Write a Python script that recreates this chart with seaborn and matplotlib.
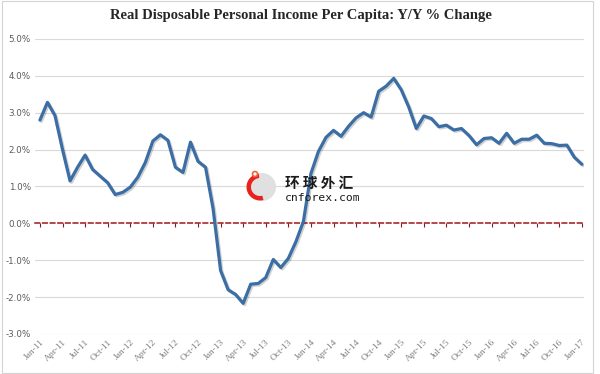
import pandas as pd
import matplotlib.pyplot as plt
import matplotlib.patheffects as pe
from matplotlib.patches import Rectangle, Circle, Wedge
import seaborn as sns

# monthly Y/Y % change, Jan-11 .. Jan-17
months = pd.date_range('2011-01-01', periods=73, freq='MS')
yoy = [2.80, 3.28, 2.92, 2.00, 1.15, 1.52, 1.85, 1.46, 1.28, 1.10, 0.78, 0.84,
       0.98, 1.25, 1.65, 2.23, 2.40, 2.25, 1.52, 1.38, 2.20, 1.68, 1.52, 0.40,
       -1.28, -1.80, -1.93, -2.17, -1.65, -1.63, -1.47, -0.98, -1.20, -0.95, -0.50, 0.05,
       1.35, 1.95, 2.33, 2.52, 2.36, 2.63, 2.86, 3.00, 2.88, 3.58, 3.72, 3.93,
       3.62, 3.15, 2.57, 2.91, 2.84, 2.62, 2.66, 2.53, 2.57, 2.38, 2.13, 2.30,
       2.32, 2.17, 2.44, 2.17, 2.28, 2.28, 2.39, 2.17, 2.16, 2.11, 2.12, 1.79,
       1.60]
y_ticks = [-3, -2, -1, 0, 1, 2, 3, 4, 5]

df = pd.DataFrame({'idx': range(len(months)), 'yoy': yoy})
tick_pos = list(range(0, len(months), 3))
tick_labels = [months[i].strftime('%b-%y') for i in tick_pos]

sns.set_style('white')
fig = plt.figure(figsize=(6, 3.74), dpi=100)
ax = fig.add_axes([0.0583, 0.107, 0.9147, 0.789])

for v in y_ticks:
    if v != 0:
        ax.axhline(v, color='#d9d9d9', lw=0.8, zorder=0)

sns.lineplot(data=df, x='idx', y='yoy', ax=ax, color='#3b6ea5', lw=2.3,
             path_effects=[pe.SimpleLineShadow(offset=(1.0, -1.0), alpha=0.18),
                           pe.Normal()], zorder=3)

ax.set_ylim(-3, 5)
ax.set_xlim(-0.66, 72.25)
ax.set_yticks(y_ticks)
ax.set_yticklabels([f'{v:.1f}%' for v in y_ticks], fontsize=6.3, color='#595959')
ax.set_xticks(tick_pos)
ax.set_xticklabels(tick_labels, rotation=45, ha='right', rotation_mode='anchor',
                   fontsize=6.8, color='#7f7f7f', family='Liberation Serif')
ax.tick_params(axis='both', length=0, pad=3)
ax.set_xlabel('')
ax.set_ylabel('')
for s in ax.spines.values():
    s.set_visible(False)

# dashed zero axis with small ticks
zax = ax.secondary_xaxis(3 / 8)
zax.set_xticks(tick_pos)
zax.set_xticklabels([])
zax.tick_params(axis='x', length=3, width=0.8, color='#8b1a1a', direction='out')
zax.spines['bottom'].set_color('#a01818')
zax.spines['bottom'].set_linestyle((0, (3, 2)))
zax.spines['bottom'].set_linewidth(1.1)
zax.spines['bottom'].set_zorder(2)

fig.suptitle('Real Disposable Personal Income Per Capita: Y/Y % Change',
             x=0.502, y=0.975, fontsize=10.5, fontweight='bold',
             family='Liberation Serif', color='#262626')

# watermark (positions in inches from lower left)
inch = fig.dpi_scale_trans
fig.patches.append(Circle((2.62, 3.74 - 1.87), 0.14, transform=inch,
                          facecolor='#e0e0e0', edgecolor='none', zorder=5))
fig.patches.append(Wedge((2.60, 3.74 - 1.87), 0.135, 95, 285, width=0.045,
                         transform=inch, facecolor='#e8231f', edgecolor='none', zorder=6))
fig.patches.append(Circle((2.55, 3.74 - 1.74), 0.025, transform=inch,
                          facecolor='white', edgecolor='#f0643c', lw=1.2, zorder=6))
fig.text(285 / 600, 1 - 183 / 374, '环 球 外 汇', family=['Noto Sans CJK SC', 'DejaVu Sans'],
         fontsize=10.5, fontweight='bold', color='#1a1a1a', va='center', ha='left', zorder=7)
fig.text(285 / 600, 1 - 198 / 374, 'cnforex.com', family='DejaVu Sans Mono',
         fontsize=8.2, color='#1a1a1a', va='center', ha='left', zorder=7)

fig.patches.append(Rectangle((0.003, 0.004), 0.985, 0.992, transform=fig.transFigure,
                             fill=False, edgecolor='#d4d4d4', lw=0.8))

fig.savefig('out.png', dpi=100)
